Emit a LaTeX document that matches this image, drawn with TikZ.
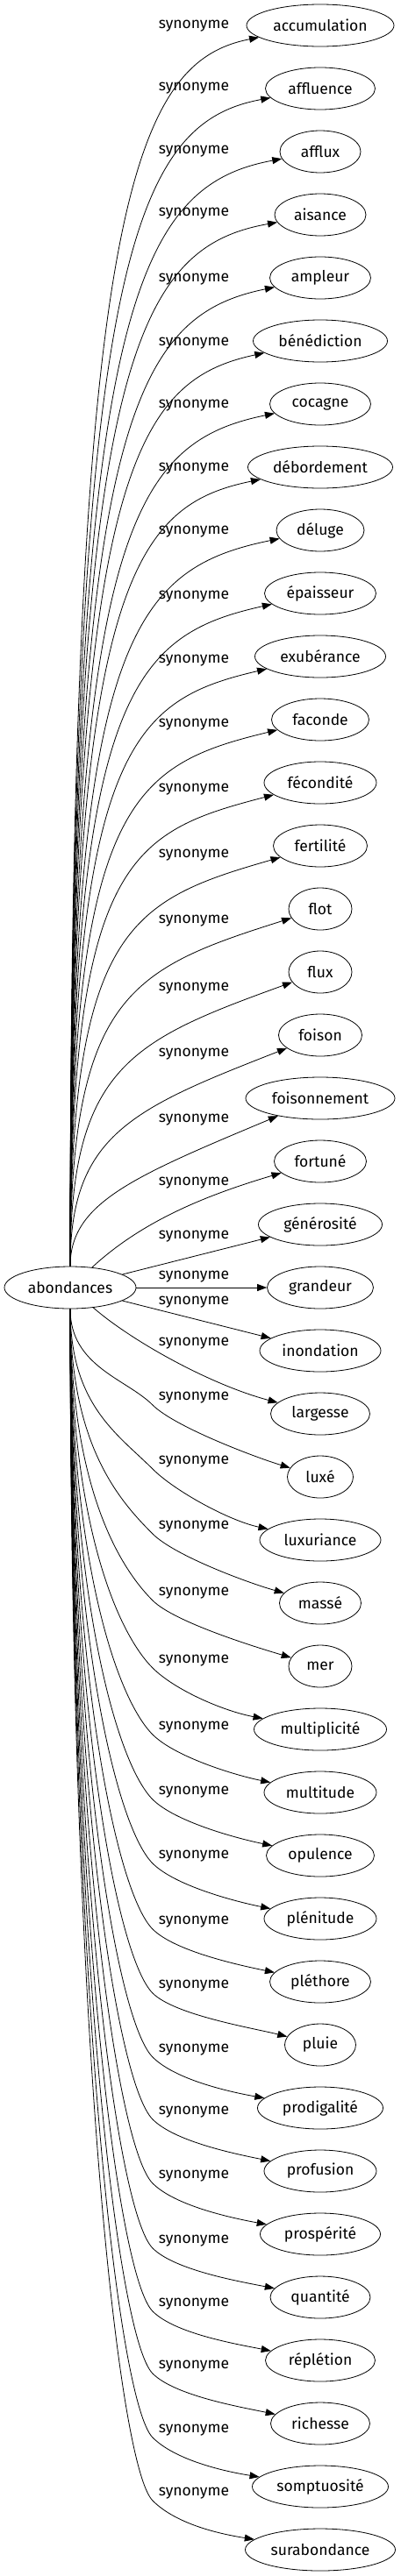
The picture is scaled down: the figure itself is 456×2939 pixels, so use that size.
\documentclass[tikz,border=0pt]{standalone}
\usepackage{fontspec}
\setmainfont{Fira Sans}
\usetikzlibrary{shapes.geometric, arrows.meta}

\begin{document}
\begin{tikzpicture}[x=1pt, y=-1pt, font=\fontsize{17.5}{21}\selectfont, line width=0.8pt]
\tikzstyle{word}=[ellipse, draw=black, inner sep=0pt, minimum height=48pt]
\tikzstyle{rel}=[inner sep=0pt]
\tikzstyle{syn}=[-{Triangle[length=11pt, width=8pt]}]

\useasboundingbox (0,0) rectangle (456,2939);

\node (abondances) at (80,1469) [word, minimum width=150pt] {abondances};

\node (w1) at (365,29) [word, minimum width=168pt] {accumulation};
\node (w2) at (365,101) [word, minimum width=125pt] {affluence};
\node (w3) at (365,173) [word, minimum width=92pt] {afflux};
\node (w4) at (365,245) [word, minimum width=104pt] {aisance};
\node (w5) at (365,317) [word, minimum width=115pt] {ampleur};
\node (w6) at (365,389) [word, minimum width=153pt] {bénédiction};
\node (w7) at (365,461) [word, minimum width=115pt] {cocagne};
\node (w8) at (365,533) [word, minimum width=165pt] {débordement};
\node (w9) at (365,605) [word, minimum width=100pt] {déluge};
\node (w10) at (365,677) [word, minimum width=127pt] {épaisseur};
\node (w11) at (365,749) [word, minimum width=149pt] {exubérance};
\node (w12) at (365,821) [word, minimum width=111pt] {faconde};
\node (w13) at (365,893) [word, minimum width=128pt] {fécondité};
\node (w14) at (365,965) [word, minimum width=107pt] {fertilité};
\node (w15) at (365,1037) [word, minimum width=72pt] {flot};
\node (w16) at (365,1109) [word, minimum width=72pt] {flux};
\node (w17) at (365,1181) [word, minimum width=95pt] {foison};
\node (w18) at (365,1253) [word, minimum width=170pt] {foisonnement};
\node (w19) at (365,1325) [word, minimum width=105pt] {fortuné};
\node (w20) at (365,1397) [word, minimum width=141pt] {générosité};
\node (w21) at (365,1469) [word, minimum width=121pt] {grandeur};
\node (w22) at (365,1541) [word, minimum width=138pt] {inondation};
\node (w23) at (365,1613) [word, minimum width=113pt] {largesse};
\node (w24) at (365,1685) [word, minimum width=75pt] {luxé};
\node (w25) at (365,1757) [word, minimum width=138pt] {luxuriance};
\node (w26) at (365,1829) [word, minimum width=93pt] {massé};
\node (w27) at (365,1901) [word, minimum width=72pt] {mer};
\node (w28) at (365,1973) [word, minimum width=151pt] {multiplicité};
\node (w29) at (365,2045) [word, minimum width=128pt] {multitude};
\node (w30) at (365,2117) [word, minimum width=123pt] {opulence};
\node (w31) at (365,2189) [word, minimum width=128pt] {plénitude};
\node (w32) at (365,2261) [word, minimum width=115pt] {pléthore};
\node (w33) at (365,2333) [word, minimum width=81pt] {pluie};
\node (w34) at (365,2405) [word, minimum width=143pt] {prodigalité};
\node (w35) at (365,2477) [word, minimum width=128pt] {profusion};
\node (w36) at (365,2549) [word, minimum width=137pt] {prospérité};
\node (w37) at (365,2621) [word, minimum width=114pt] {quantité};
\node (w38) at (365,2693) [word, minimum width=125pt] {réplétion};
\node (w39) at (365,2765) [word, minimum width=113pt] {richesse};
\node (w40) at (365,2837) [word, minimum width=155pt] {somptuosité};
\node (w41) at (365,2909) [word, minimum width=171pt] {surabondance};

% edge labels
\node (s1) at (221,30) [rel] {synonyme};
\node (s2) at (221,101) [rel] {synonyme};
\node (s3) at (221,173) [rel] {synonyme};
\node (s4) at (221,244) [rel] {synonyme};
\node (s5) at (221,319) [rel] {synonyme};
\node (s6) at (221,392) [rel] {synonyme};
\node (s7) at (221,463) [rel] {synonyme};
\node (s8) at (221,535) [rel] {synonyme};
\node (s9) at (221,607) [rel] {synonyme};
\node (s10) at (221,681) [rel] {synonyme};
\node (s11) at (221,754) [rel] {synonyme};
\node (s12) at (221,827) [rel] {synonyme};
\node (s13) at (221,901) [rel] {synonyme};
\node (s14) at (221,976) [rel] {synonyme};
\node (s15) at (221,1051) [rel] {synonyme};
\node (s16) at (221,1128) [rel] {synonyme};
\node (s17) at (221,1203) [rel] {synonyme};
\node (s18) at (221,1278) [rel] {synonyme};
\node (s19) at (221,1350) [rel] {synonyme};
\node (s20) at (221,1411) [rel] {synonyme};
\node (s21) at (221,1457) [rel] {synonyme};
\node (s22) at (221,1486) [rel] {synonyme};
\node (s23) at (221,1533) [rel] {synonyme};
\node (s24) at (221,1595) [rel] {synonyme};
\node (s25) at (221,1668) [rel] {synonyme};
\node (s26) at (221,1742) [rel] {synonyme};
\node (s27) at (221,1818) [rel] {synonyme};
\node (s28) at (221,1895) [rel] {synonyme};
\node (s29) at (221,1971) [rel] {synonyme};
\node (s30) at (221,2045) [rel] {synonyme};
\node (s31) at (221,2118) [rel] {synonyme};
\node (s32) at (221,2193) [rel] {synonyme};
\node (s33) at (221,2266) [rel] {synonyme};
\node (s34) at (221,2339) [rel] {synonyme};
\node (s35) at (221,2410) [rel] {synonyme};
\node (s36) at (221,2483) [rel] {synonyme};
\node (s37) at (221,2557) [rel] {synonyme};
\node (s38) at (221,2629) [rel] {synonyme};
\node (s39) at (221,2700) [rel] {synonyme};
\node (s40) at (221,2773) [rel] {synonyme};
\node (s41) at (221,2845) [rel] {synonyme};

% upper edges
\draw[syn] (abondances) .. controls (80,241) and (150,71) .. (w1);
\draw[syn] (abondances) .. controls (80,303) and (150,141) .. (w2);
\draw[syn] (abondances) .. controls (80,364) and (150,213) .. (w3);
\draw[syn] (abondances) .. controls (80,425) and (150,283) .. (w4);
\draw[syn] (abondances) .. controls (80,486) and (150,361) .. (w5);
\draw[syn] (abondances) .. controls (80,547) and (150,435) .. (w6);
\draw[syn] (abondances) .. controls (80,609) and (150,505) .. (w7);
\draw[syn] (abondances) .. controls (80,670) and (150,577) .. (w8);
\draw[syn] (abondances) .. controls (80,731) and (150,649) .. (w9);
\draw[syn] (abondances) .. controls (80,792) and (150,725) .. (w10);
\draw[syn] (abondances) .. controls (80,853) and (150,799) .. (w11);
\draw[syn] (abondances) .. controls (80,915) and (150,873) .. (w12);
\draw[syn] (abondances) .. controls (80,979) and (150,949) .. (w13);
\draw[syn] (abondances) .. controls (80,1057) and (150,1027) .. (w14);
\draw[syn] (abondances) .. controls (80,1135) and (150,1105) .. (w15);
\draw[syn] (abondances) .. controls (80,1217) and (150,1187) .. (w16);
\draw[syn] (abondances) .. controls (80,1295) and (150,1265) .. (w17);
\draw[syn] (abondances) .. controls (80,1373) and (150,1343) .. (w18);
\draw[syn] (abondances) .. controls (160,1395) and (230,1365) .. (w19);
\draw[syn] (abondances) -- (w20);
\draw[syn] (abondances) -- (w21);
\draw[syn] (abondances) -- (w22);
\draw[syn] (abondances) .. controls (150,1530) and (240,1580) .. (w23);

% lower edges
\draw[syn] (abondances) .. controls (80,1559) and (144,1573) .. (174,1603) .. controls (199,1628) and (292,1663) .. (w24);
\draw[syn] (abondances) .. controls (80,1603) and (134,1636) .. (174,1676) .. controls (199,1701) and (261,1735) .. (w25);
\draw[syn] (abondances) .. controls (80,1647) and (134,1710) .. (174,1750) .. controls (199,1775) and (283,1806) .. (w26);
\draw[syn] (abondances) .. controls (80,1693) and (134,1786) .. (174,1826) .. controls (199,1851) and (294,1880) .. (w27);
\draw[syn] (abondances) .. controls (80,1739) and (134,1863) .. (174,1903) .. controls (199,1928) and (254,1952) .. (w28);
\draw[syn] (abondances) .. controls (80,1785) and (134,1939) .. (174,1979) .. controls (199,2004) and (266,2025) .. (w29);
\draw[syn] (abondances) .. controls (80,1829) and (134,2013) .. (174,2053) .. controls (199,2078) and (268,2097) .. (w30);
\draw[syn] (abondances) .. controls (80,1873) and (134,2086) .. (174,2126) .. controls (199,2151) and (266,2169) .. (w31);
\draw[syn] (abondances) .. controls (80,1918) and (134,2161) .. (174,2201) .. controls (199,2226) and (272,2242) .. (w32);
\draw[syn] (abondances) .. controls (80,1962) and (134,2234) .. (174,2274) .. controls (199,2299) and (289,2314) .. (w33);
\draw[syn] (abondances) .. controls (80,2005) and (134,2307) .. (174,2347) .. controls (199,2372) and (258,2386) .. (w34);
\draw[syn] (abondances) .. controls (80,2048) and (134,2378) .. (174,2418) .. controls (199,2443) and (266,2457) .. (w35);
\draw[syn] (abondances) .. controls (80,2092) and (134,2451) .. (174,2491) .. controls (199,2516) and (261,2530) .. (w36);
\draw[syn] (abondances) .. controls (80,2136) and (134,2525) .. (174,2565) .. controls (199,2590) and (273,2603) .. (w37);
\draw[syn] (abondances) .. controls (80,2179) and (134,2597) .. (174,2637) .. controls (199,2662) and (267,2674) .. (w38);
\draw[syn] (abondances) .. controls (80,2222) and (134,2668) .. (174,2708) .. controls (199,2733) and (273,2746) .. (w39);
\draw[syn] (abondances) .. controls (80,2266) and (134,2741) .. (174,2781) .. controls (199,2806) and (252,2819) .. (w40);
\draw[syn] (abondances) .. controls (80,2309) and (134,2813) .. (174,2853) .. controls (199,2878) and (244,2890) .. (w41);
\end{tikzpicture}
\end{document}
